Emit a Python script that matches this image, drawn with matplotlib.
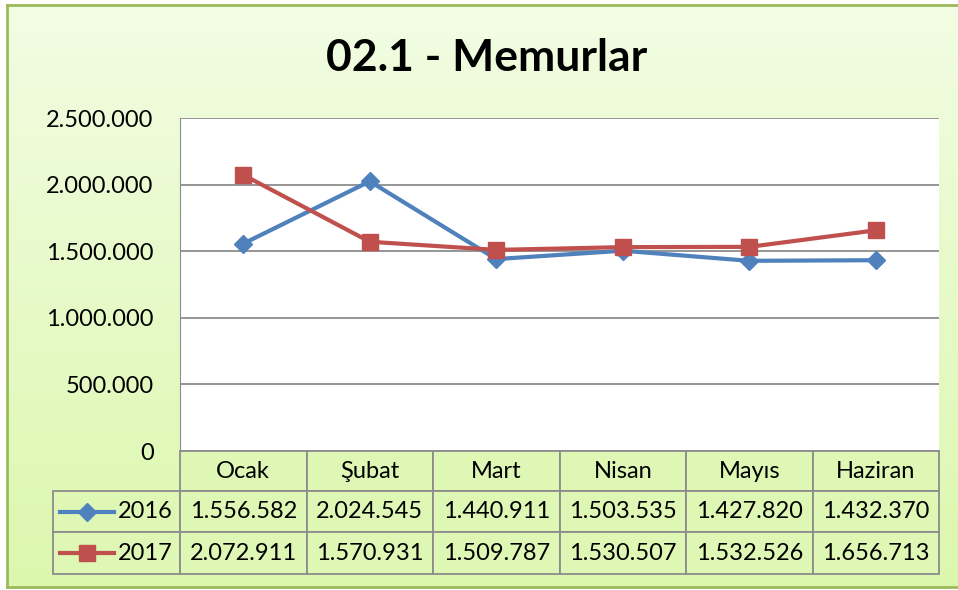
import numpy as np
import matplotlib.pyplot as plt
from matplotlib.patches import Rectangle
from matplotlib.lines import Line2D

plt.rcParams['font.family'] = ['Lato', 'DejaVu Sans']

months = ['Ocak', 'Şubat', 'Mart', 'Nisan', 'Mayıs', 'Haziran']
years = ['2016', '2017']
v2016 = [1556582, 2024545, 1440911, 1503535, 1427820, 1432370]
v2017 = [2072911, 1570931, 1509787, 1530507, 1532526, 1656713]
yticks = [0, 500000, 1000000, 1500000, 2000000, 2500000]

W, H = 958, 590
fig = plt.figure(figsize=(W / 100, H / 100), dpi=100)

def fx(x):
    return x / W

def fy(y):
    return 1 - y / H

def fmt(v):
    return f'{v:,}'.replace(',', '.')

# background with gradient
bg = fig.add_axes([fx(7), fy(587), fx(958 - 7), (587 - 5) / H])
grad = np.linspace(0, 1, 256).reshape(-1, 1)
top = np.array([0.95, 0.99, 0.89])
bot = np.array([0.86, 0.97, 0.68])
img = top + (bot - top) * grad[:, :, None]
bg.imshow(img, aspect='auto', extent=[0, 1, 0, 1])
bg.set_xlim(0, 1)
bg.set_ylim(0, 1)
bg.set_xticks([])
bg.set_yticks([])
for s in bg.spines.values():
    s.set_color('#9bbb59')
    s.set_linewidth(2)
bg.spines['right'].set_visible(False)

fig.text(fx(487), fy(58), '02.1 - Memurlar', ha='center', va='center',
         fontsize=32, fontweight='bold')

# plot area
x0, x1, ytop, ybot = 180, 939, 118, 451
ax = fig.add_axes([fx(x0), fy(ybot), fx(x1 - x0), (ybot - ytop) / H])
ax.set_facecolor('white')
x = np.arange(len(months))
ax.plot(x, v2016, color='#4f81bd', lw=3, marker='D', ms=9, zorder=3)
ax.plot(x, v2017, color='#c0504d', lw=3, marker='s', ms=11, zorder=4)
ax.set_xlim(-0.5, len(months) - 0.5)
ax.set_ylim(0, 2500000)
ax.set_yticks(yticks)
ax.set_yticklabels([fmt(v) for v in yticks], fontsize=17)
ax.set_xticks([])
ax.grid(axis='y', color='#8c8c8c', lw=1.3)
ax.tick_params(axis='y', length=0, pad=19)
for k in ['top', 'right', 'bottom']:
    ax.spines[k].set_visible(False)
ax.spines['left'].set_color('#8c8c8c')
ax.set_axisbelow(True)

# data table
cw = (x1 - x0) / len(months)
rows = [451, 491, 532, 574]
cell = '#dff7b4'
edge = '#8c8c8c'

def cellrect(xa, ya, w, h):
    fig.add_artist(Rectangle((fx(xa), fy(ya + h)), w / W, h / H,
                             facecolor=cell, edgecolor=edge, lw=1.3,
                             transform=fig.transFigure))

for i, m in enumerate(months):
    xa = x0 + i * cw
    cellrect(xa, rows[0], cw, rows[1] - rows[0])
    fig.text(fx(xa + cw / 2), fy((rows[0] + rows[1]) / 2), m,
             ha='center', va='center', fontsize=17)

series = [v2016, v2017]
colors = ['#4f81bd', '#c0504d']
markers = ['D', 's']
msz = [9, 11]
for r, (yr, vals) in enumerate(zip(years, series)):
    ya, yb = rows[r + 1], rows[r + 2]
    cellrect(53, ya, x0 - 53, yb - ya)
    yc = fy((ya + yb) / 2)
    fig.add_artist(Line2D([fx(60), fx(114)], [yc, yc], color=colors[r], lw=3,
                          transform=fig.transFigure))
    fig.add_artist(Line2D([fx(87)], [yc], color=colors[r], marker=markers[r],
                          ms=msz[r], transform=fig.transFigure))
    fig.text(fx(145), yc, yr, ha='center', va='center', fontsize=17)
    for i, v in enumerate(vals):
        xa = x0 + i * cw
        cellrect(xa, ya, cw, yb - ya)
        fig.text(fx(xa + cw / 2), yc, fmt(v), ha='center', va='center',
                 fontsize=17)

plt.savefig('out.png', dpi=100)
